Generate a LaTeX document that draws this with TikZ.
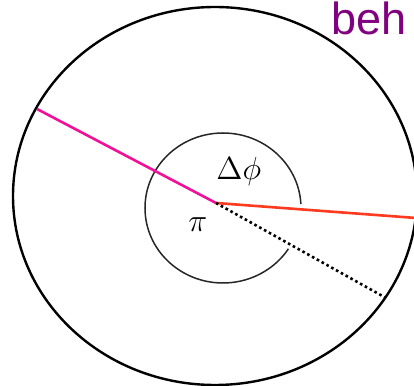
\documentclass[tikz,border=0pt]{standalone}
\usepackage{fix-cm}
\usepackage[no-math]{fontspec}
\newfontfamily\slidefont{Liberation Sans}
\usetikzlibrary{positioning}
\definecolor{RimPink}{HTML}{F0109A}
\definecolor{RimRed}{HTML}{FF3A1E}
\definecolor{SlidePurple}{HTML}{800080}

\begin{document}
\begin{tikzpicture}[
  x=0.5pt,
  y=0.5pt,
  rim/.style={
    draw=black,
    line width=1.2pt
  },
  core/.style={
    draw=black!85,
    line width=0.75pt
  },
  ray/.style={
    line width=1.3pt
  },
  mathlabel/.style={
    inner sep=0pt,
    anchor=base west,
    font=\fontsize{16}{19}\selectfont
  }
]
\useasboundingbox (0,0) rectangle (414,386);
\clip (0,0) rectangle (414,386);

\draw[rim] (215,190) ellipse [x radius=202,y radius=189];
\draw[core] (223,178) ++(3:78 and 75)
  arc[start angle=3,end angle=327,x radius=78,y radius=75];

\coordinate (pivot) at (216,183);
\coordinate (pinkend) at (37,277);
\coordinate (redend) at (416,168);
\coordinate (dotend) at (386,88);

\draw[ray,RimPink] (pivot) -- (pinkend);
\draw[ray,RimRed] (pivot) -- (redend);
\draw[ray,dash pattern=on 1.3pt off 1.45pt] (pivot) -- (dotend);

\node[mathlabel] (dphi) at (216,206) {$\Delta\phi$};
\node[mathlabel] (pi) at (188,154) {$\pi$};
\node[anchor=base west,inner sep=0pt,text=SlidePurple,
  font=\slidefont\fontsize{22.5}{27}\selectfont] (beh) at (331,351.5) {beh};

\end{tikzpicture}
\end{document}
